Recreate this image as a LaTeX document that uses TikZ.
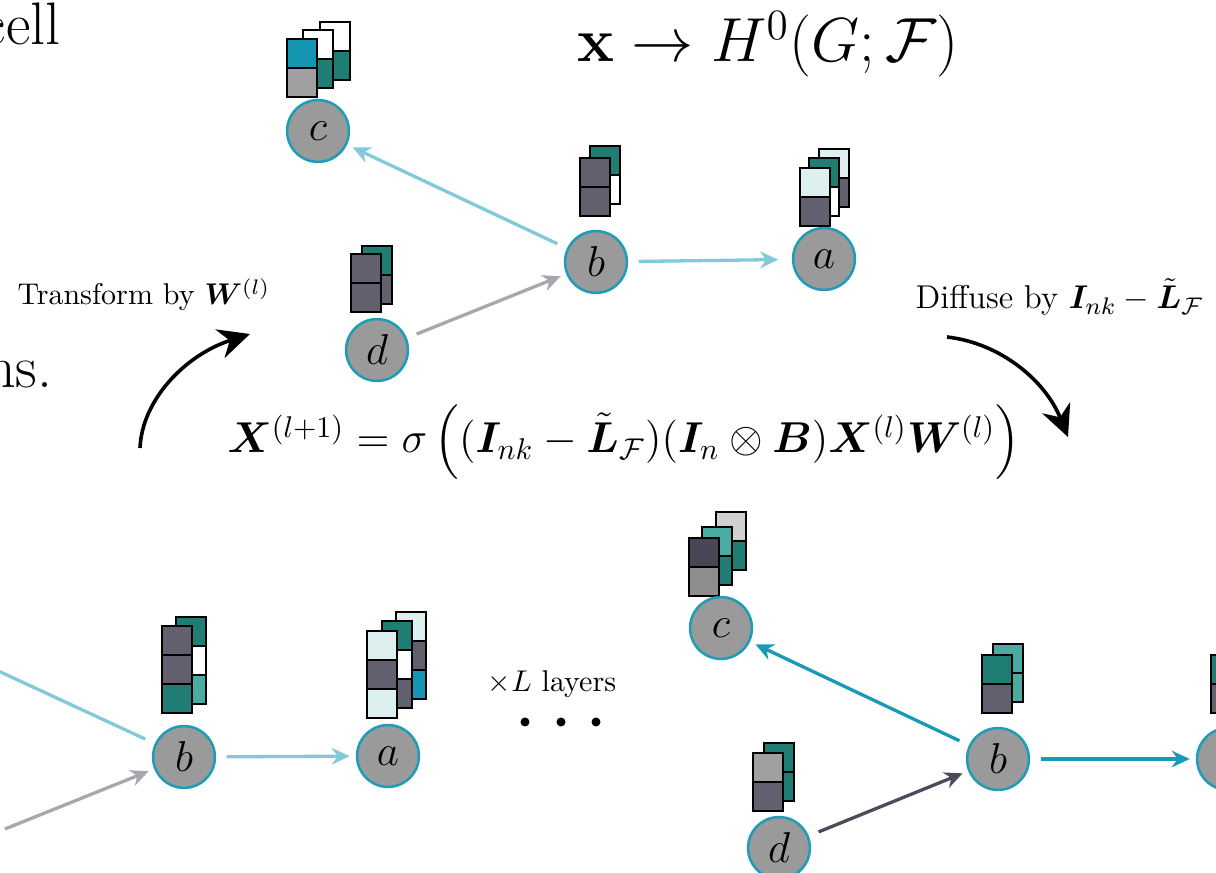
\documentclass[tikz,border=0pt]{standalone}
\usepackage{amsmath,amssymb,bm}
\usetikzlibrary{arrows.meta}

\definecolor{nodegray}{HTML}{9A9A9A}
\definecolor{nodering}{HTML}{1E9CB8}
\definecolor{dteal}{HTML}{1F7D74}
\definecolor{mteal}{HTML}{4AABA2}
\definecolor{cyanb}{HTML}{1597B4}
\definecolor{slate}{HTML}{625F6E}
\definecolor{dslate}{HTML}{494757}
\definecolor{lcyan}{HTML}{DDEFEE}
\definecolor{cgray}{HTML}{A0A0A0}
\definecolor{cgrayd}{HTML}{8E8E8E}
\definecolor{lgray}{HTML}{D0D0D0}
\definecolor{elight}{HTML}{82CAD8}
\definecolor{egray}{HTML}{A8A7AF}
\definecolor{eteal}{HTML}{1899B6}
\definecolor{eslate}{HTML}{4D4A5A}

\tikzset{
  graphnode/.style={circle, fill=nodegray, draw=nodering, line width=0.85pt,
    minimum size=20.6pt, inner sep=0pt, font=\fontsize{14.4}{17}\selectfont},
  cellbox/.style={draw=black, line width=0.95pt},
  edge/.style={line width=1.1pt, -{Stealth[length=6pt,width=5.5pt]},
    shorten <=3.5pt, shorten >=2pt},
  plainedge/.style={line width=1.1pt, shorten <=3.5pt},
  bigarrow/.style={line width=1.2pt, -{Stealth[length=10.5pt,width=10pt]}},
  caption/.style={font=\fontsize{10}{12}\selectfont, inner sep=0pt},
  bigtext/.style={font=\fontsize{20}{24}\selectfont, inner sep=0pt},
}

% one column of a feature stack: x, top y, list of cell colours
\newcommand{\featcol}[3]{%
  \foreach \cc [count=\k from 0] in {#3}{%
    \draw[cellbox, fill=\cc] (#1,{#2+29*\k}) rectangle ++(30,29);
  }}

\begin{document}
\begin{tikzpicture}[x=0.3333pt,y=-0.3333pt]
\useasboundingbox (0,0) rectangle (1216,873);
\clip (0,0) rectangle (1216,873);

% surrounding text
\node[bigtext, anchor=base east] (cell) at (61,45) {cell};
\node[bigtext, anchor=base east] (ns) at (53,388) {ns.};
\node[font=\fontsize{19.5}{23}\selectfont, inner sep=0pt, anchor=base] (map) at (768,62)
  {$\mathbf{x}\to H^0(G;\mathcal{F})$};

% ---------- top graph ----------
\featcol{320}{22}{white,dteal}
\featcol{303}{30}{white,dteal}
\featcol{287}{39}{cyanb,cgray}

\featcol{590}{146}{dteal,white}
\featcol{580}{158}{slate,slate}

\featcol{819}{149}{lcyan,slate}
\featcol{809}{158}{dteal,white}
\featcol{800}{168}{lcyan,slate}

\featcol{362}{246}{dteal,slate}
\featcol{351}{254}{slate,slate}

\node[graphnode] (c1) at (318,131) {$c$};
\node[graphnode] (b1) at (596,262) {$b$};
\node[graphnode] (a1) at (824,259) {$a$};
\node[graphnode] (d1) at (377,350) {$d$};

\draw[edge, elight] (b1) -- (c1);
\draw[edge, elight, shorten >=4.5pt] (b1) -- (a1);
\draw[edge, egray] (d1) -- (b1);

% ---------- update rule and curved arrows ----------
\node[caption, anchor=base west] (tlab) at (17,305) {Transform by $\boldsymbol{W}^{(l)}$};
\node[caption, font=\fontsize{11}{13}\selectfont, anchor=base west] (dlab) at (915,309)
  {Diffuse by $\boldsymbol{I}_{nk}-\tilde{\boldsymbol{L}}_{\mathcal{F}}$};
\node[font=\fontsize{13.8}{17}\selectfont, anchor=base, inner sep=0pt] (rule) at (624,453)
  {$\boldsymbol{X}^{(l+1)}=\sigma\left((\boldsymbol{I}_{nk}-\tilde{\boldsymbol{L}}_{\mathcal{F}})(\boldsymbol{I}_n\otimes\boldsymbol{B})\boldsymbol{X}^{(l)}\boldsymbol{W}^{(l)}\right)$};

\coordinate (tA) at (140,448);
\coordinate (hA) at (250,334);
\draw[bigarrow] (tA) .. controls (142,400) and (185,355) .. (hA);
\coordinate (tB) at (947,337);
\coordinate (hB) at (1068,437);
\draw[bigarrow] (tB) .. controls (1000,343) and (1045,380) .. (hB);

% ---------- bottom-left graph ----------
\featcol{176}{617}{dteal,white,mteal}
\featcol{162}{626}{slate,slate,dteal}

\featcol{396}{612}{lcyan,slate,cyanb}
\featcol{382}{621}{dteal,white,slate}
\featcol{367}{631}{lcyan,slate,lcyan}

\node[graphnode] (b2) at (184,757) {$b$};
\node[graphnode] (a2) at (388,756) {$a$};
\coordinate (cL) at (-60,644);
\coordinate (dL) at (5,829);

\draw[plainedge, elight] (b2) -- (cL);
\draw[edge, egray, shorten <=0pt] (dL) -- (b2);
\draw[edge, elight] (b2) -- (a2);

\node[caption, anchor=base] (layers) at (552,692) {$\times L$ layers};
\fill (525,722) circle[radius=4.5];
\fill (561,722) circle[radius=4.5];
\fill (596,722) circle[radius=4.5];

% ---------- bottom-right graph ----------
\featcol{716}{512}{lgray,dteal}
\featcol{702}{527}{mteal,dteal}
\featcol{689}{538}{dslate,cgrayd}

\featcol{993}{644}{mteal,mteal}
\featcol{982}{655}{dteal,slate}

\featcol{764}{743}{dteal,dteal}
\featcol{753}{753}{cgray,slate}

\featcol{1211}{655}{dteal,slate}

\node[graphnode] (c3) at (721,628) {$c$};
\node[graphnode] (b3) at (998,759) {$b$};
\node[graphnode] (d3) at (779,848) {$d$};
\node[graphnode] (a3) at (1228,759) {$a$};

\draw[edge, eteal] (b3) -- (c3);
\draw[edge, eteal] (b3) -- (a3);
\draw[edge, eslate] (d3) -- (b3);
\end{tikzpicture}
\end{document}
